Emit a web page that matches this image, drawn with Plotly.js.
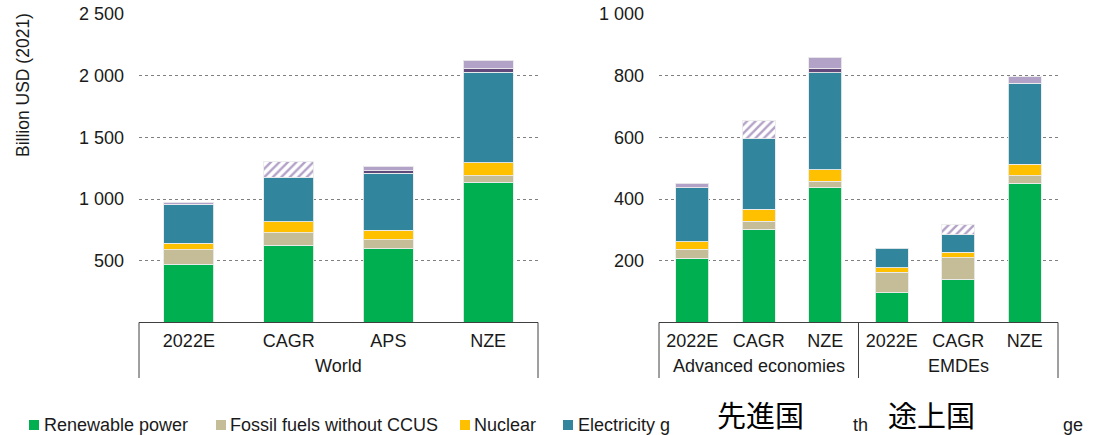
<!DOCTYPE html>
<html>
<head>
<meta charset="utf-8">
<script src="https://cdn.plot.ly/plotly-3.0.1.min.js"></script>
<style>
    html, body { margin: 0; padding: 0; background: #ffffff; }
    #graphique { width: 1095px; height: 435px; }
</style>
</head>
<body>
<div id="graphique"></div>
<script>
// Valeurs, en milliards USD (2021), segment par segment
let groupes_monde = ["World", "World", "World", "World"]
let scenarios_monde = ["2022E", "CAGR", "APS", "NZE"]
let groupes_regions = ["Advanced economies", "Advanced economies", "Advanced economies", "EMDEs", "EMDEs", "EMDEs"]
let scenarios_regions = ["2022E", "CAGR", "NZE", "2022E", "CAGR", "NZE"]

let renouvelable_monde = [471, 624, 597, 1137]
let fossile_monde = [118, 103, 73, 51]
let nucleaire_monde = [52, 89, 76, 106]
let reseaux_monde = [316, 359, 462, 734]
let fossile_ccus_monde = [null, null, 21, 27]
let stockage_monde = [18, null, 35, 70]
let ecart_monde = [null, 127, null, null]

let renouvelable_regions = [208, 302, 437, 96, 140, 452]
let fossile_regions = [30, 26, 20, 67, 69, 24]
let nucleaire_regions = [23, 39, 38, 14, 19, 37]
let reseaux_regions = [175, 228, 315, 64, 56, 262]
let fossile_ccus_regions = [null, null, 12, null, null, null]
let stockage_regions = [15, null, 37, null, null, 22]
let ecart_regions = [null, 59, null, null, 32, null]

let ticks_monde = [500, 1000, 1500, 2000, 2500]
let textes_ticks_monde = ["500", "1 000", "1 500", "2 000", "2 500"]
let ticks_regions = [200, 400, 600, 800, 1000]
let textes_ticks_regions = ["200", "400", "600", "800", "1 000"]

let noms_series = ["Renewable power", "Fossil fuels without CCUS", "Nuclear", "Electricity grids",
    "Fossil fuels with CCUS", "Battery storage", "CAGR range"]
let titre_axe_y = "Billion USD (2021)"
let textes_legende = ["Renewable power", "Fossil fuels without CCUS", "Nuclear", "Electricity g", "th", "ge"]
let textes_japonais = ["先進国", "途上国"]

/**
 * Conversion pixels -> coordonnées papier (la fenêtre fait 1095 x 435)
 */
function px_x(x) { return x / 1095 }
function px_y(y) { return 1 - y / 435 }

/**
 * Clés de catégories uniques : groupe + scénario (les scénarios se répètent d'un groupe à l'autre)
 */
function cles_categories(groupes, scenarios) {
    let cles = []
    for (let i = 0; i < scenarios.length; i = i + 1) {
        cles.push(groupes[i] + " | " + scenarios[i])
    }
    return cles
}

/**
 * Construit les traces empilées d'un panneau
 */
function traces_panneau(x, series, axe_x, axe_y) {
    let couleurs = ["#00B050", "#C4BD97", "#FFC000", "#31859C", "#604A7B", "#B3A2C7"]
    let traces = []
    for (let i = 0; i < series.length; i = i + 1) {
        let marqueur
        if (i < 6) {
            marqueur = {color: couleurs[i], line: {color: "rgba(235,235,235,0.9)", width: 1}}
        } else {
            // Segment hachuré
            marqueur = {
                color: "#ffffff",
                line: {color: "rgba(235,235,235,0.9)", width: 1},
                pattern: {shape: "/", fgcolor: "#B3A2C7", bgcolor: "#ffffff", size: 6, solidity: 0.4}
            }
        }
        traces.push({
            type: "bar",
            x: x,
            y: series[i],
            name: noms_series[i],
            xaxis: axe_x,
            yaxis: axe_y,
            marker: marqueur,
            hoverinfo: "skip"
        })
    }
    return traces
}

let cles_monde = cles_categories(groupes_monde, scenarios_monde)
let cles_regions = cles_categories(groupes_regions, scenarios_regions)

let donnees = traces_panneau(cles_monde,
    [renouvelable_monde, fossile_monde, nucleaire_monde, reseaux_monde, fossile_ccus_monde, stockage_monde, ecart_monde],
    "x", "y").concat(traces_panneau(cles_regions,
    [renouvelable_regions, fossile_regions, nucleaire_regions, reseaux_regions, fossile_ccus_regions, stockage_regions, ecart_regions],
    "x2", "y2"))

let police = "Liberation Sans, Arial, sans-serif"
let domaine_y = [px_y(322.4), px_y(14)]

function axe_categories(domaine, ancre, cles, textes) {
    return {
        type: "category",
        domain: domaine,
        anchor: ancre,
        tickmode: "array",
        tickvals: cles,
        ticktext: textes,
        showline: true,
        linecolor: "#404040",
        linewidth: 1,
        showgrid: false,
        zeroline: false,
        ticks: "",
        ticklabelstandoff: 2,
        tickfont: {size: 18, color: "#1a1a1a"}
    }
}

function axe_valeurs(domaine, ancre, bornes, valeurs, textes) {
    return {
        domain: domaine,
        anchor: ancre,
        range: bornes,
        tickmode: "array",
        tickvals: valeurs,
        ticktext: textes,
        showgrid: true,
        gridcolor: "#808080",
        gridwidth: 1,
        griddash: "dot",
        zeroline: false,
        showline: false,
        ticks: "",
        ticklabelstandoff: 14,
        tickfont: {size: 18, color: "#1a1a1a"}
    }
}

let formes = []

// Cadre des catégories : traits verticaux sous l'axe
let separateurs = [["x domain", 0], ["x domain", 1], ["x2 domain", 0], ["x2 domain", 0.5], ["x2 domain", 1]]
for (let s of separateurs) {
    formes.push({
        type: "line", xref: s[0], yref: "paper",
        x0: s[1], x1: s[1], y0: px_y(322.4), y1: px_y(378),
        line: {color: "#404040", width: 1}
    })
}

// Légende dessinée à la main (en partie masquée sur l'original)
let carres_legende = [[29, "#00B050"], [216, "#C4BD97"], [460, "#FFC000"], [563, "#31859C"]]
let positions_legende = [43, 229, 473, 577, 852, 1062]

for (let carre of carres_legende) {
    formes.push({
        type: "rect", xref: "paper", yref: "paper",
        x0: px_x(carre[0]), x1: px_x(carre[0] + 10),
        y0: px_y(430), y1: px_y(420),
        fillcolor: carre[1], line: {width: 0}
    })
}

let annotations = [{
    text: titre_axe_y, textangle: -90,
    xref: "paper", yref: "paper", x: px_x(23), y: px_y(85),
    xanchor: "center", yanchor: "middle", showarrow: false,
    font: {size: 17.5, color: "#1a1a1a"}
}]

// Libellés des groupes sous les scénarios
let libelles_groupes = [["x domain", 0.5, "World"], ["x2 domain", 0.25, "Advanced economies"], ["x2 domain", 0.75, "EMDEs"]]
for (let g of libelles_groupes) {
    annotations.push({
        text: g[2], xref: g[0], yref: "paper", x: g[1], y: px_y(366),
        xanchor: "center", yanchor: "middle", showarrow: false,
        font: {size: 18, color: "#1a1a1a"}
    })
}

for (let i = 0; i < textes_legende.length; i = i + 1) {
    annotations.push({
        text: textes_legende[i],
        xref: "paper", yref: "paper", x: px_x(positions_legende[i] - 1), y: px_y(425),
        xanchor: "left", yanchor: "middle", showarrow: false,
        font: {size: 18, color: "#1a1a1a"}
    })
}
let centres_japonais = [760, 931]
for (let i = 0; i < textes_japonais.length; i = i + 1) {
    annotations.push({
        text: textes_japonais[i],
        xref: "paper", yref: "paper", x: px_x(centres_japonais[i]), y: px_y(414),
        xanchor: "center", yanchor: "middle", showarrow: false,
        font: {family: "Noto Sans CJK JP", size: 29, color: "#000000"}
    })
}

let apparence = {
    width: 1095,
    height: 435,
    margin: {l: 0, r: 0, t: 0, b: 0},
    paper_bgcolor: "#ffffff",
    plot_bgcolor: "#ffffff",
    font: {family: police, size: 18, color: "#1a1a1a"},
    barmode: "stack",
    bargap: 0.5,
    showlegend: false,
    xaxis: axe_categories([px_x(139), px_x(538)], "y", cles_monde, scenarios_monde),
    yaxis: axe_valeurs(domaine_y, "x", [0, 2500], ticks_monde, textes_ticks_monde),
    xaxis2: axe_categories([px_x(659), px_x(1058)], "y2", cles_regions, scenarios_regions),
    yaxis2: axe_valeurs(domaine_y, "x2", [0, 1000], ticks_regions, textes_ticks_regions),
    shapes: formes,
    annotations: annotations
}

Plotly.newPlot("graphique", donnees, apparence, {displayModeBar: false, staticPlot: true})
</script>
</body>
</html>
